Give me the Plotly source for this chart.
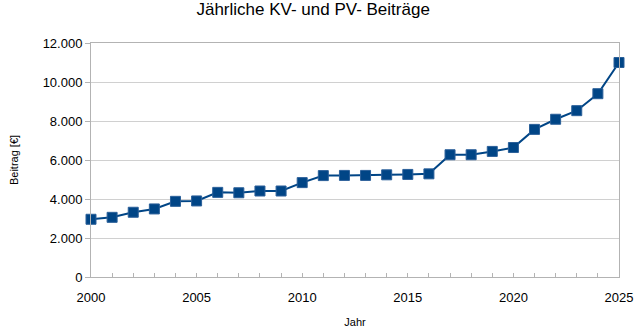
import plotly.graph_objects as go

years = list(range(2000, 2026))
beitrag = [2960, 3060, 3320, 3490, 3880, 3900, 4340, 4320, 4410, 4410,
           4840, 5200, 5210, 5210, 5240, 5260, 5290, 6270, 6270, 6440,
           6640, 7570, 8090, 8530, 9400, 11000]
y_ticks = [0, 2000, 4000, 6000, 8000, 10000, 12000]
y_labels = ["0", "2.000", "4.000", "6.000", "8.000", "10.000", "12.000"]
x_ticks = [2000, 2005, 2010, 2015, 2020, 2025]

font = "Liberation Sans, Arial, sans-serif"
fig = go.Figure()
fig.add_trace(go.Scatter(
    x=years, y=beitrag, mode="lines+markers",
    line=dict(color="#004586", width=2),
    marker=dict(symbol="square", size=10, color="#004586",
                line=dict(color="#2a5f99", width=1)),
    showlegend=False, cliponaxis=False,
))
fig.update_layout(
    width=643, height=335,
    margin=dict(l=91, r=24, t=43, b=58),
    paper_bgcolor="white", plot_bgcolor="white",
    title=dict(text="Jährliche KV- und PV- Beiträge", x=0.487, xanchor="center",
               y=0.972, yanchor="middle", pad=dict(t=0),
               font=dict(family=font, size=17, color="black")),
    font=dict(family=font, color="black"),
)
fig.update_xaxes(
    range=[2000, 2025], tickvals=x_ticks, ticktext=[str(v) for v in x_ticks],
    tickfont=dict(size=13), showgrid=False, zeroline=False, automargin=False,
    showline=True, linecolor="#b3b3b3", linewidth=1, mirror=True,
    ticks="inside", ticklen=4, tickcolor="#b3b3b3", ticklabelstandoff=8,
    minor=dict(dtick=1, ticks="inside", ticklen=4, tickcolor="#b3b3b3", showgrid=False),
    title=dict(text="Jahr", font=dict(size=11), standoff=14),
)
fig.update_yaxes(
    range=[0, 12000], tickvals=y_ticks, ticktext=y_labels, automargin=False,
    tickfont=dict(size=13), showgrid=True, gridcolor="#d0d0d0", gridwidth=1,
    zeroline=False, showline=True, linecolor="#b3b3b3", linewidth=1, mirror=True,
    ticks="outside", ticklen=5, tickcolor="#b3b3b3",
    title=dict(text="Beitrag [€]", font=dict(size=11), standoff=21),
)
fig.write_html("out.html")
